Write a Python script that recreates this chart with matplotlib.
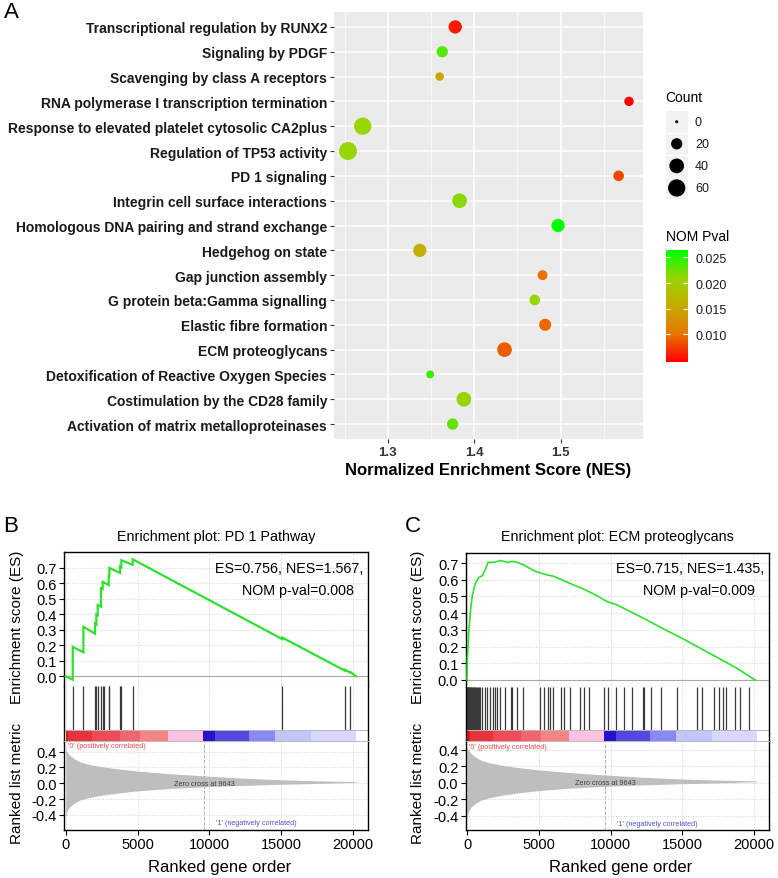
import numpy as np
import matplotlib
matplotlib.use('Agg')
import matplotlib.pyplot as plt
from matplotlib.colors import LinearSegmentedColormap

# ---- panel A data (top to bottom) ----
pathways = ['Transcriptional regulation by RUNX2', 'Signaling by PDGF',
            'Scavenging by class A receptors', 'RNA polymerase I transcription termination',
            'Response to elevated platelet cytosolic CA2plus', 'Regulation of TP53 activity',
            'PD 1 signaling', 'Integrin cell surface interactions',
            'Homologous DNA pairing and strand exchange', 'Hedgehog on state',
            'Gap junction assembly', 'G protein beta:Gamma signalling',
            'Elastic fibre formation', 'ECM proteoglycans',
            'Detoxification of Reactive Oxygen Species', 'Costimulation by the CD28 family',
            'Activation of matrix metalloproteinases']
nes = [1.378, 1.363, 1.360, 1.579, 1.271, 1.254, 1.567, 1.383, 1.497, 1.337,
       1.479, 1.470, 1.482, 1.435, 1.349, 1.388, 1.375]
counts = [31, 20, 9, 12, 60, 66, 17, 40, 31, 31, 14, 17, 24, 40, 7, 40, 20]
pvals = [0.006, 0.0235, 0.015, 0.0047, 0.021, 0.021, 0.008, 0.0215, 0.0265, 0.016,
         0.010, 0.021, 0.0095, 0.009, 0.0245, 0.0205, 0.023]
size_breaks = [0, 20, 40, 60]
pval_breaks = [0.010, 0.015, 0.020, 0.025]

# ---- panel B data ----
b_es_x = [0, 486, 486, 1228, 1228, 2038, 2038, 2131, 2131, 2224, 2224, 2455, 2455,
          2572, 2572, 2989, 2989, 3036, 3036, 3776, 3776, 3869, 3869, 4657, 4657,
          15065, 15065, 19423, 19423, 19771, 19771, 20200]
b_es_y = [0.0, -0.022, 0.19, 0.155, 0.32, 0.275, 0.34, 0.335, 0.40, 0.395, 0.46, 0.45, 0.57,
          0.565, 0.61, 0.59, 0.65, 0.648, 0.70, 0.668, 0.71, 0.705, 0.75, 0.72, 0.756,
          0.24, 0.25, 0.036, 0.042, 0.025, 0.03, 0.0]
b_hits = [486, 1228, 2038, 2131, 2224, 2455, 2572, 2664, 2989, 3036, 3776, 3869, 4657,
          15065, 19423, 19771]

# ---- panel C data ----
c_es_x = [0, 23, 139, 255, 371, 603, 834, 1066, 1298, 1460, 1877, 2341, 2805, 3152, 3500,
          3964, 4659, 5355, 6050, 6746, 7441, 8136, 9064, 9759, 10454, 11381, 12309,
          13700, 14859, 16019, 17410, 18801, 20074]
c_es_y = [0.0, 0.126, 0.305, 0.425, 0.505, 0.584, 0.614, 0.624, 0.664, 0.704, 0.704, 0.715,
          0.704, 0.710, 0.704, 0.688, 0.654, 0.634, 0.620, 0.594, 0.568, 0.544, 0.504,
          0.469, 0.449, 0.409, 0.369, 0.305, 0.255, 0.201, 0.136, 0.070, 0.0]
c_hits = [15, 40, 70, 100, 130, 170, 210, 250, 300, 350, 400, 460, 520, 590, 660, 730,
          800, 870, 940, 1066, 1228, 1368, 1600, 1785, 1947, 2109, 2295, 2619, 3036, 3152,
          3500, 3871, 5077, 5355, 5633, 5772, 5980, 6514, 6746, 7210, 7905, 8183, 8507,
          9527, 9805, 10361, 10967, 11523, 12262, 12331, 12796, 13537, 14652, 16016,
          16342, 17198, 17546, 17824, 18011, 18637, 19032, 19680]

# ---- shared ranked list ----
metric_rank = [0, 50, 150, 300, 600, 1000, 1600, 2500, 3500, 5000, 7000, 9500, 12000,
               14500, 17000, 19000, 20200]
metric_hi = [0.44, 0.41, 0.38, 0.35, 0.31, 0.27, 0.24, 0.21, 0.185, 0.155, 0.125, 0.095,
             0.068, 0.048, 0.034, 0.026, 0.022]
metric_lo = [-0.43, -0.38, -0.33, -0.29, -0.25, -0.21, -0.18, -0.15, -0.125, -0.095,
             -0.068, -0.045, -0.028, -0.015, -0.004, 0.006, 0.012]
bar_edges = [0, 185, 1808, 3778, 5168, 7138, 9525, 10383, 12770, 14554, 17057, 20200]
bar_colors = ['#D81818', '#E8323C', '#EE4A58', '#F26472', '#F88484', '#F9C2E2',
              '#2A10C8', '#5248E2', '#8888F6', '#C4C4FA', '#D8D8FC']
zero_cross = 9643

W, H = 778, 879
plt.rcParams['font.family'] = ['Liberation Sans', 'DejaVu Sans']
fig = plt.figure(figsize=(W / 100, H / 100), dpi=100)


def add_ax(l, t, r, b):
    return fig.add_axes([l / W, 1 - b / H, (r - l) / W, (b - t) / H])


def ftext(x, y, s, **kw):
    fig.text(x / W, 1 - y / H, s, **kw)


def dot_size(c):
    d = 3.07 * (1 + 5 * np.sqrt(np.asarray(c, float) / 70.0)) * 0.72
    return d ** 2


cmap = LinearSegmentedColormap.from_list(
    'rg', ['#FF0000', '#E87600', '#C8AB00', '#97D600', '#00FF00'])
pmin, pmax = min(pvals), max(pvals)

# ================= panel A =================
ax = add_ax(334, 13, 643, 440)
ax.set_facecolor('#EBEBEB')
yy = np.arange(len(pathways))
ax.scatter(nes, yy, s=dot_size(counts), c=pvals, cmap=cmap, vmin=pmin, vmax=pmax,
           edgecolors='none', zorder=3)
ax.set_ylim(len(pathways) - 1 + 0.6, -0.6)
ax.set_xlim(1.2378, 1.5952)
ax.set_yticks(yy)
ax.set_yticklabels(pathways, fontsize=10, fontweight='bold', color='#1A1A1A')
ax.set_xticks([1.3, 1.4, 1.5])
ax.set_xticklabels(['1.3', '1.4', '1.5'], fontsize=9.5, fontweight='bold', color='#333333')
ax.set_xticks([1.25, 1.35, 1.45, 1.55], minor=True)
ax.grid(which='major', color='white', lw=1.1)
ax.grid(which='minor', axis='x', color='white', lw=0.5)
ax.set_axisbelow(True)
for s in ax.spines.values():
    s.set_visible(False)
ax.tick_params(which='major', length=3, color='#333333', width=0.8, pad=2)
ax.tick_params(which='minor', length=0)
ax.set_xlabel('Normalized Enrichment Score (NES)', fontsize=12, fontweight='bold',
              labelpad=3)
ftext(4, 12, 'A', fontsize=16, va='center', ha='left')

# size legend
ftext(665.7, 98, 'Count', fontsize=10, va='center', ha='left')
lg = add_ax(665.7, 111.7, 687.7, 200)
lg.set_facecolor('#F2F2F2')
lg.set_xlim(0, 1)
lg.set_ylim(len(size_breaks), 0)
lg.scatter([0.5] * len(size_breaks), np.arange(len(size_breaks)) + 0.5,
           s=dot_size(size_breaks), color='black', edgecolors='none')
for i in range(1, len(size_breaks)):
    lg.axhline(i, color='white', lw=1)
for i, v in enumerate(size_breaks):
    lg.text(1.33, i + 0.5, str(v), fontsize=9, va='center', ha='left', color='#1A1A1A')
lg.set_xticks([])
lg.set_yticks([])
for s in lg.spines.values():
    s.set_visible(False)

# colour bar
ftext(665.7, 237, 'NOM Pval', fontsize=10, va='center', ha='left')
cb = add_ax(665.7, 250.7, 687.7, 362.7)
grad = np.linspace(0, 1, 256).reshape(-1, 1)
cb.imshow(grad, cmap=cmap, aspect='auto', origin='lower', extent=[0, 1, pmin, pmax])
cb.set_ylim(pmin, pmax)
cb.set_xlim(0, 1)
cb.hlines(pval_breaks, 0, 0.2, color='white', lw=0.8)
cb.hlines(pval_breaks, 0.8, 1, color='white', lw=0.8)
cb.yaxis.tick_right()
cb.set_yticks(pval_breaks)
cb.set_yticklabels(['%.3f' % v for v in pval_breaks], fontsize=9, color='#1A1A1A')
cb.tick_params(length=0, pad=5.3)
cb.set_xticks([])
for s in cb.spines.values():
    s.set_visible(False)


# ================= panels B and C =================
def gsea(l, r, t, b_es, b_m, xlim, es_lim, m_lim, es_x, es_y, hits, lw, title,
         stat1, stat2, ylab_x, letter):
    b_h = 742.3
    bar_h = 11.6
    es = add_ax(l, t, r, b_es)
    hh = add_ax(l, b_es, r, b_h)
    mm = add_ax(l, b_h, r, b_m)
    grid_kw = dict(color='#CFCFCF', ls=':', lw=0.7)
    xt = [0, 5000, 10000, 15000, 20000]

    es.plot(es_x, es_y, color='#2EE02E', lw=lw, zorder=3, solid_joinstyle='miter')
    es.axhline(0, color='#A8A8A8', lw=0.8, zorder=2)
    es.set_xlim(xlim)
    es.set_ylim(es_lim)
    es.set_yticks(np.arange(0, 0.71, 0.1))
    es.set_yticklabels(['%.1f' % v for v in np.arange(0, 0.71, 0.1)], fontsize=10.5)
    es.set_xticks(xt)
    es.tick_params(axis='x', length=0, labelbottom=False)
    es.tick_params(axis='y', length=3.5, width=0.8, pad=2)
    es.grid(True, **grid_kw)
    es.set_axisbelow(True)
    es.spines['bottom'].set_color('#A8A8A8')
    es.spines['bottom'].set_linewidth(0.8)

    hh.set_xlim(xlim)
    hh.set_ylim(0, b_h - b_es)
    hh.vlines(hits, bar_h, b_h - b_es, color='#3A3A3A', lw=0.9)
    hh.broken_barh([(bar_edges[i], bar_edges[i + 1] - bar_edges[i])
                    for i in range(len(bar_colors))], (0, bar_h), facecolors=bar_colors)
    hh.axhline(bar_h, color='#B8B8B8', lw=0.7)
    hh.set_xticks(xt)
    hh.set_yticks([])
    hh.tick_params(axis='x', length=0, labelbottom=False)
    hh.grid(True, axis='x', **grid_kw)
    hh.set_axisbelow(True)
    hh.spines['top'].set_visible(False)
    hh.spines['bottom'].set_visible(False)

    mm.fill_between(metric_rank, metric_lo, metric_hi, color='#BEBEBE', lw=0, zorder=2)
    mm.axvline(zero_cross, color='#B0B0B0', ls='--', lw=0.7, zorder=3)
    mm.set_xlim(xlim)
    mm.set_ylim(m_lim)
    mm.set_yticks([-0.4, -0.2, 0.0, 0.2, 0.4])
    mm.set_yticklabels(['-0.4', '-0.2', '0.0', '0.2', '0.4'], fontsize=10.5)
    mm.set_xticks(xt)
    mm.set_xticklabels([str(v) for v in xt], fontsize=10.5)
    mm.tick_params(length=3.5, width=0.8, pad=2)
    mm.grid(True, **grid_kw)
    mm.set_axisbelow(True)
    mm.spines['top'].set_color('#B8B8B8')
    mm.spines['top'].set_linewidth(0.7)
    mm.text(150, m_lim[1] - 0.015, "'0' (positively correlated)", fontsize=5.2,
            color='#F04848', va='top', ha='left')
    mm.text(zero_cross, 0.0, 'Zero cross at %d' % zero_cross, fontsize=5.2,
            color='#404040', va='center', ha='center', zorder=4)
    mm.text(zero_cross + 800, -0.50, "'1' (negatively correlated)", fontsize=5.2,
            color='#5050E0', va='center', ha='left')

    for a in (es, hh, mm):
        for s in ('left', 'right'):
            a.spines[s].set_linewidth(1.0)
    es.spines['top'].set_linewidth(1.0)
    mm.spines['bottom'].set_linewidth(1.0)

    cx = (l + r) / 2
    ftext(cx, 537, title, fontsize=10.3, ha='center', va='center')
    ftext(r - 5, 569, stat1, fontsize=10.3, ha='right', va='center')
    ftext(r - 70, 591.5, stat2, fontsize=10.3, ha='center', va='center')
    ftext(ylab_x, 627, 'Enrichment score (ES)', fontsize=11, rotation=90,
          ha='center', va='center')
    ftext(ylab_x, 783, 'Ranked list metric', fontsize=11, rotation=90,
          ha='center', va='center')
    ftext(cx + 3, 868, 'Ranked gene order', fontsize=12, ha='center', va='center')
    ftext(l - 61, 527, letter, fontsize=16, ha='left', va='center')


gsea(64.3, 368.3, 552.7, 686.7, 830.7, (-100, 21050), (-0.061, 0.805), (-0.586, 0.531),
     b_es_x, b_es_y, b_hits, 1.6, 'Enrichment plot: PD 1 Pathway',
     'ES=0.756, NES=1.567,', 'NOM p-val=0.008', 17, 'B')
gsea(466, 769.3, 554, 688.3, 830.7, (-70, 21060), (-0.044, 0.76), (-0.57, 0.502),
     c_es_x, c_es_y, c_hits, 1.2, 'Enrichment plot: ECM proteoglycans',
     'ES=0.715, NES=1.435,', 'NOM p-val=0.009', 418, 'C')

fig.savefig('out.png', dpi=100)
